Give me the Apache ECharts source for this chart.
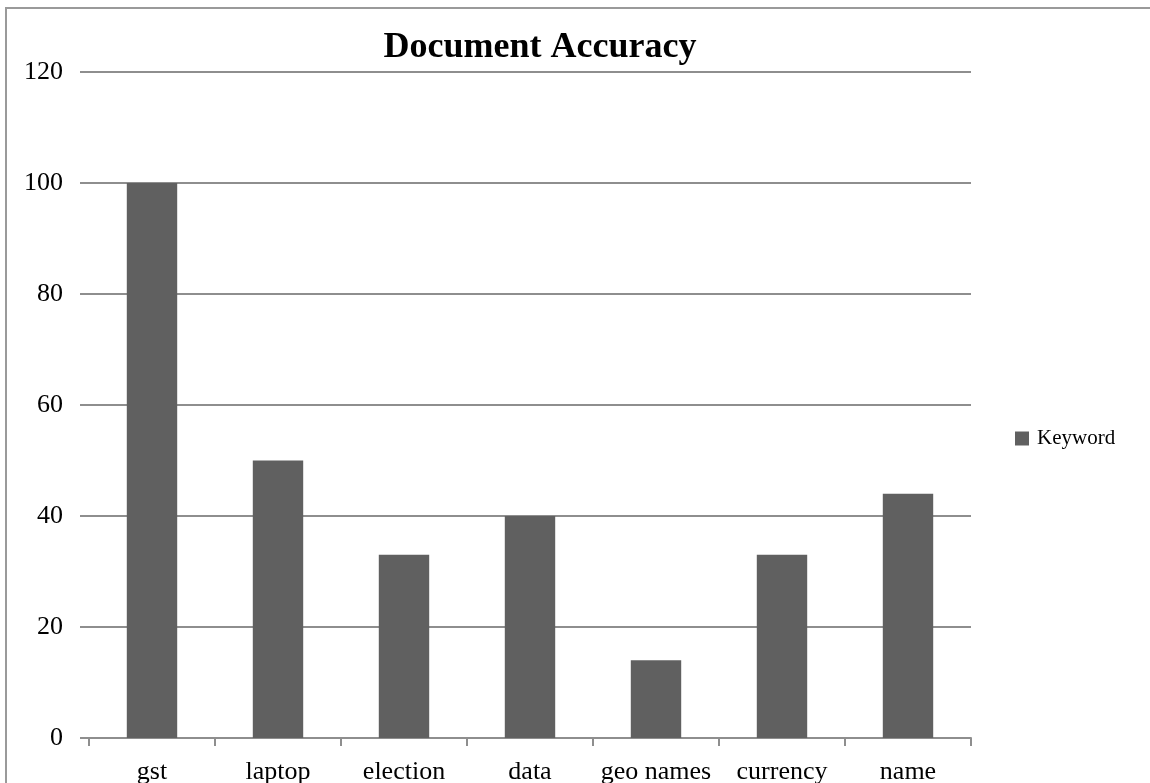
<!DOCTYPE html>
<html>
<head>
<meta charset="utf-8">
<style>
  html, body { margin: 0; padding: 0; background: #fff; }
  #chart { width: 1150px; height: 783px; }
</style>
<script src="https://cdn.jsdelivr.net/npm/echarts@6/dist/echarts.min.js"></script>
</head>
<body>
<div id="chart"></div>
<script>
// Keyword accuracy per document type
const categories = ['gst', 'laptop', 'election', 'data', 'geo names', 'currency', 'name'];
const keywordValues = [100, 50, 33, 40, 14, 33, 44];
const yTicks = [0, 20, 40, 60, 80, 100, 120];

const serif = '"Liberation Serif", "Times New Roman", serif';
const gridColor = '#8e8e8e';
const barColor = '#606060';

const chart = echarts.init(document.getElementById('chart'), null, { renderer: 'canvas' });

chart.setOption({
  backgroundColor: '#ffffff',
  animation: false,
  graphic: [{
    // outer chart frame
    type: 'rect',
    shape: { x: 6, y: 8, width: 1300, height: 900 },
    style: { fill: 'none', stroke: '#9a9a9a', lineWidth: 2 },
    silent: true
  }],
  title: {
    text: 'Document Accuracy',
    left: 540,
    top: 30,
    padding: 0,
    textAlign: 'center',
    textStyle: { fontFamily: serif, fontSize: 36, fontWeight: 'bold', color: '#000' }
  },
  legend: {
    data: ['Keyword'],
    orient: 'vertical',
    left: 1015,
    top: 428,
    padding: 0,
    itemWidth: 14,
    itemHeight: 14,
    itemGap: 8,
    icon: 'rect',
    textStyle: { fontFamily: serif, fontSize: 21, color: '#000', padding: [0, 0, 0, 3] }
  },
  // fixed plot rectangle; the category labels run off the bottom edge
  grid: { left: 89, right: 179, top: 72, bottom: 45, containLabel: false, outerBoundsMode: 'none' },
  xAxis: {
    type: 'category',
    data: categories,
    axisLine: { show: true, lineStyle: { color: gridColor, width: 2 } },
    axisTick: { show: true, alignWithLabel: false, length: 8, lineStyle: { color: gridColor, width: 2 } },
    axisLabel: { fontFamily: serif, fontSize: 26, color: '#000', margin: 21, interval: 0 },
    splitLine: { show: false }
  },
  yAxis: {
    type: 'value',
    min: yTicks[0],
    max: yTicks[yTicks.length - 1],
    interval: yTicks[1] - yTicks[0],
    axisLine: { show: false },
    axisTick: { show: true, length: 9, lineStyle: { color: gridColor, width: 2 } },
    axisLabel: { fontFamily: serif, fontSize: 26, color: '#000', margin: 26 },
    splitLine: { show: true, lineStyle: { color: gridColor, width: 2 } }
  },
  series: [{
    name: 'Keyword',
    type: 'bar',
    data: keywordValues,
    barWidth: '40%',
    itemStyle: { color: barColor }
  }]
});
</script>
</body>
</html>
